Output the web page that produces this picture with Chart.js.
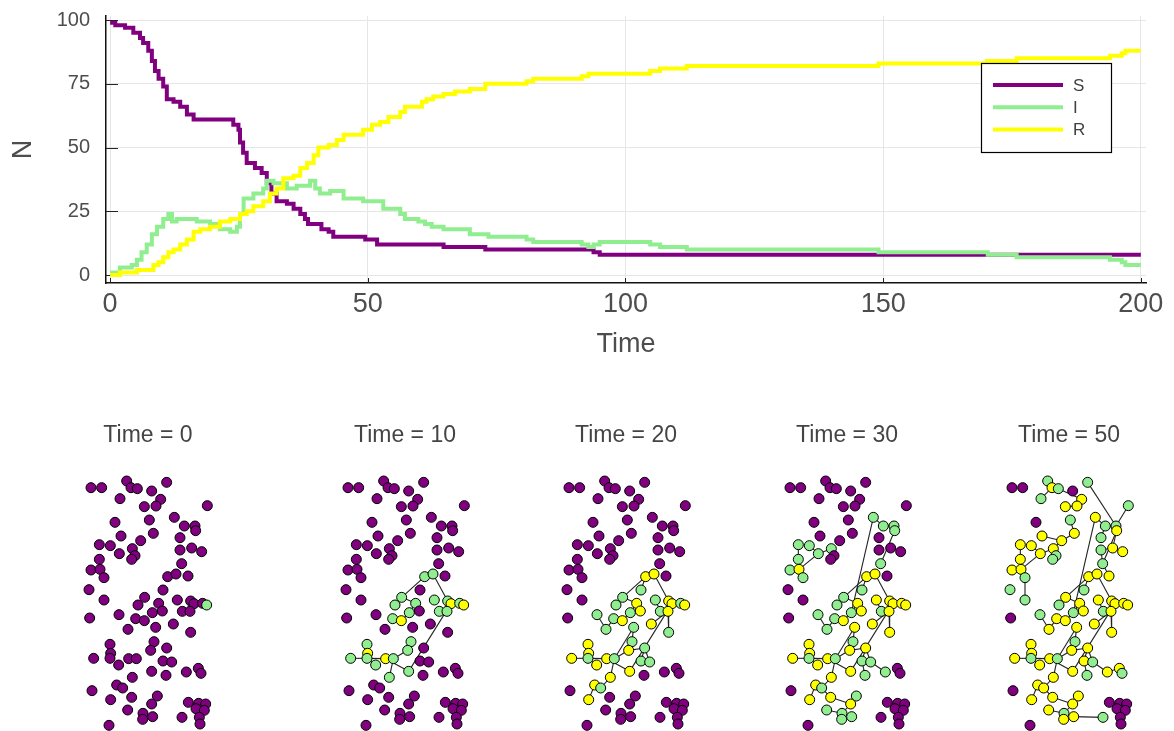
<!DOCTYPE html>
<html>
<head>
<meta charset="utf-8">
<script src="https://cdn.jsdelivr.net/npm/chart.js@4.4.0/dist/chart.umd.min.js"></script>
<style>
  body { margin: 0; background: #fff; width: 1174px; height: 731px; position: relative; overflow: hidden; font-family: "Liberation Sans", Arial, sans-serif; }
  #sir { position: absolute; left: 0; top: -12px; }
  .panel { position: absolute; top: 410px; width: 180px; height: 321px; }
  .panel canvas { position: absolute; left: 0; top: 0; }
  .ptitle { position: absolute; top: 13px; left: 78px; transform: translateX(-50%); white-space: nowrap; font-size: 23px; line-height: 23px; color: #444; }
</style>
</head>
<body>
<canvas id="sir" width="1174" height="377"></canvas>
<div id="panels"></div>
<script>
// --- SIR counts (step series) ---
const sTime  = [0, 1.0, 2.9, 4.5, 5.8, 6.4, 7.4, 8.1, 8.7, 9.4, 10.3, 11.0, 12.3, 13.6, 14.9, 16.2, 23.9, 24.9, 25.2, 25.8, 26.5, 28.1, 29.4, 30.4, 31.3, 32.3, 34.3, 35.6, 36.9, 37.8, 38.4, 41.0, 42.4, 43.3, 49.5, 51.8, 64.7, 72.8, 93.8, 95.0, 200];
const sCount = [99, 98, 97, 95, 93, 91, 88, 84, 80, 77, 74, 69, 68, 66, 63, 61, 59, 57, 52, 48, 44, 42, 40, 36, 32, 29, 28, 26, 24, 22, 20, 18, 17, 15, 14, 12, 11, 10, 9, 8, 8];

const iTime  = [0, 1.9, 4.2, 5.2, 6.1, 7.1, 8.1, 9.1, 10.3, 11.3, 12.0, 12.9, 16.8, 19.4, 21.3, 23.3, 24.6, 25.2, 25.9, 27.8, 29.7, 30.4, 31.7, 34.3, 36.2, 38.8, 39.8, 40.7, 42.7, 45.3, 49.1, 53.0, 56.3, 57.2, 59.8, 61.1, 62.4, 64.7, 69.8, 73.4, 80.8, 82.1, 91.5, 92.8, 93.8, 95.0, 104.8, 106.7, 111.9, 149.1, 170.3, 175.9, 194.0, 196.3, 197.0, 200];
const iCount = [1, 3, 4, 6, 9, 12, 16, 19, 22, 24, 21, 22, 21, 20, 18, 17, 19, 24, 30, 32, 34, 37, 36, 34, 35, 37, 34, 32, 33, 30, 29, 26, 24, 22, 21, 20, 19, 18, 16, 15, 14, 13, 12, 11, 12, 13, 12, 11, 10, 9, 8, 7, 6, 5, 4, 4];

const rTime  = [0, 1.9, 5.2, 8.4, 9.4, 10.3, 11.3, 12.3, 13.6, 14.9, 16.2, 17.5, 19.4, 21.3, 23.3, 25.2, 26.5, 27.8, 29.7, 31.0, 32.3, 33.6, 35.6, 36.9, 38.2, 39.5, 40.4, 42.4, 44.0, 45.3, 49.1, 50.8, 52.4, 54.0, 56.3, 57.2, 60.5, 61.4, 62.7, 64.7, 66.9, 69.8, 72.8, 80.8, 82.1, 91.5, 92.8, 104.8, 106.7, 111.9, 149.1, 170.1, 175.9, 194.0, 196.3, 197.0, 200];
const rCount = [0, 1, 2, 4, 5, 7, 9, 10, 12, 14, 17, 18, 19, 21, 22, 24, 25, 27, 29, 32, 34, 38, 39, 42, 44, 47, 50, 51, 53, 55, 57, 59, 60, 62, 64, 66, 68, 69, 70, 71, 72, 73, 75, 76, 77, 78, 79, 80, 81, 82, 83, 84, 85, 86, 87, 88, 88];

const seriesNames = ["S", "I", "R"];
const xTicks = [0, 50, 100, 150, 200];
const yTicks = [0, 25, 50, 75, 100];

// --- contact network snapshots ---
const nodeX = [63, 95, 170, 183, 202, 290, 245, 150, 272, 223, 258, 412, 135, 238, 313, 343, 375, 377, 153, 250, 212, 330, 88, 121, 187, 148, 195, 185, 330, 365, 395, 88, 335, 63, 90, 102, 293, 318, 354, 57, 102, 279, 224, 204, 266, 322, 362, 372, 398, 410, 59, 147, 197, 223, 247, 277, 337, 360, 174, 257, 310, 362, 120, 122, 120, 71, 176, 199, 252, 242, 290, 279, 305, 146, 187, 245, 288, 349, 385, 393, 66, 140, 158, 122, 185, 262, 245, 173, 219, 218, 248, 117, 336, 355, 386, 407, 378, 403, 388, 390];
const nodeY = [233, 233, 213, 233, 236, 217, 243, 266, 268, 290, 288, 287, 337, 330, 322, 348, 348, 362, 378, 370, 392, 383, 404, 407, 416, 431, 437, 448, 420, 414, 425, 448, 461, 480, 478, 503, 500, 492, 498, 539, 570, 540, 562, 585, 580, 570, 573, 581, 580, 585, 624, 614, 626, 632, 608, 603, 604, 604, 658, 652, 642, 667, 703, 730, 745, 745, 746, 746, 695, 721, 714, 753, 756, 765, 802, 784, 796, 786, 775, 790, 842, 825, 834, 869, 862, 858, 882, 900, 910, 928, 920, 946, 922, 877, 880, 882, 896, 901, 922, 942];

const snapTimes = [0, 10, 20, 30, 50];
const infected0 = [50];
const recovered0 = [];
const infected10 = [37, 38, 43, 44, 45, 46, 47, 49, 53, 55, 57, 58, 63, 65, 66, 68, 69, 70, 74, 75, 76];
const recovered10 = [48, 50, 54, 64, 67];
const infected20 = [42, 43, 44, 46, 49, 52, 53, 55, 57, 59, 60, 62, 65, 68, 69, 71, 72, 73, 83];
const recovered20 = [37, 38, 45, 47, 48, 50, 54, 56, 58, 61, 63, 64, 66, 67, 70, 74, 75, 76, 82, 84];
const infected30 = [15, 16, 17, 18, 23, 24, 25, 26, 32, 33, 34, 36, 42, 43, 44, 52, 53, 55, 57, 59, 65, 68, 69, 72, 73, 77, 78, 83, 86, 88, 89, 90, 91];
const recovered30 = [35, 37, 38, 45, 46, 47, 48, 49, 50, 54, 56, 58, 60, 61, 62, 63, 64, 66, 67, 70, 71, 74, 75, 76, 82, 84, 85, 87];
const infected50 = [3, 5, 6, 8, 12, 14, 16, 17, 22, 27, 28, 29, 33, 36, 40, 41, 42, 44, 52, 55, 57, 65, 68, 69, 73, 77, 80, 89, 93];
const recovered50 = [4, 9, 10, 11, 15, 18, 19, 20, 21, 23, 24, 25, 26, 30, 31, 32, 34, 35, 37, 38, 39, 43, 45, 46, 47, 48, 49, 50, 53, 54, 56, 58, 59, 60, 61, 62, 63, 64, 66, 67, 70, 71, 72, 74, 75, 76, 78, 79, 82, 83, 84, 85, 86, 87, 88, 90, 91];

// transmission links, grouped by the snapshot where they first show up
const edges10 = [[37, 43], [37, 38], [38, 47], [43, 44], [43, 45], [45, 55], [54, 55], [53, 54], [47, 48], [48, 50], [48, 49], [48, 58], [57, 58], [48, 76], [66, 65], [65, 67], [64, 63], [64, 65], [67, 68], [67, 76], [68, 70], [69, 70], [68, 75], [65, 74]];
const edges20 = [[37, 42], [45, 56], [52, 59], [53, 59], [58, 61], [58, 62], [60, 69], [60, 68], [70, 71], [71, 73], [71, 72], [75, 83], [83, 82], [82, 84], [46, 57]];
const edges30 = [[23, 32], [32, 35], [34, 35], [35, 36], [35, 26], [26, 24], [26, 25], [15, 55], [15, 16], [16, 17], [17, 18], [18, 33], [73, 78], [72, 77], [86, 87], [85, 87], [87, 89], [88, 89], [89, 91], [90, 89], [83, 85]];
const edges50 = [[3, 4], [4, 8], [4, 5], [5, 9], [9, 11], [10, 11], [6, 17], [12, 17], [16, 22], [29, 30], [30, 31], [18, 30], [29, 33], [33, 39], [14, 20], [20, 21], [19, 21], [21, 25], [25, 27], [27, 28], [36, 41], [78, 79], [79, 80], [91, 93]];

const COLOR_S = "#800080";
const COLOR_I = "#90ee90";
const COLOR_R = "#ffff00";

Chart.defaults.font.family = '"Liberation Sans", Arial, sans-serif';
Chart.defaults.color = "#4d4d4d";

function steps(times, counts) {
  return times.map((t, i) => ({ x: t, y: counts[i] }));
}

// GR style ticks point into the plot
const innerTicks = {
  id: "innerTicks",
  beforeDatasetsDraw(chart) {
    const { ctx, chartArea, scales } = chart;
    ctx.save();
    ctx.strokeStyle = "#222";
    ctx.lineWidth = 1;
    ctx.beginPath();
    yTicks.forEach(v => {
      const y = Math.round(scales.y.getPixelForValue(v)) + 0.5;
      ctx.moveTo(chartArea.left, y);
      ctx.lineTo(chartArea.left + 12, y);
    });
    xTicks.forEach(v => {
      const x = Math.round(scales.x.getPixelForValue(v)) + 0.5;
      ctx.moveTo(x, chartArea.bottom);
      ctx.lineTo(x, chartArea.bottom - 5);
    });
    ctx.stroke();
    ctx.restore();
  }
};

// legend box in the upper right corner of the plot (canvas sits 12px above the page top)
const sirLegend = {
  id: "sirLegend",
  afterDraw(chart) {
    const ctx = chart.ctx;
    const top = 75;
    ctx.save();
    ctx.fillStyle = "#fff";
    ctx.fillRect(981, top, 130, 89);
    ctx.strokeStyle = "#000";
    ctx.lineWidth = 1.2;
    ctx.strokeRect(981.5, top + 0.5, 130, 89);
    ctx.font = '17px "Liberation Sans", Arial, sans-serif';
    ctx.textBaseline = "middle";
    chart.data.datasets.forEach((ds, i) => {
      const y = top + 22 + i * 22.2;
      ctx.strokeStyle = ds.borderColor;
      ctx.lineWidth = 4;
      ctx.beginPath();
      ctx.moveTo(993, y);
      ctx.lineTo(1063, y);
      ctx.stroke();
      ctx.fillStyle = "#404040";
      ctx.fillText(ds.label, 1073, y + 1);
    });
    ctx.restore();
  }
};

new Chart(document.getElementById("sir"), {
  type: "line",
  data: {
    datasets: [
      { label: seriesNames[0], data: steps(sTime, sCount), borderColor: COLOR_S, order: 2 },
      { label: seriesNames[1], data: steps(iTime, iCount), borderColor: COLOR_I, order: 1 },
      { label: seriesNames[2], data: steps(rTime, rCount), borderColor: COLOR_R, order: 0 }
    ]
  },
  options: {
    responsive: false,
    animation: false,
    devicePixelRatio: 1,
    layout: { autoPadding: false, padding: { top: 3, right: 28, left: 0, bottom: 0 } },
    elements: {
      line: { borderWidth: 4, stepped: true, fill: false, tension: 0, borderJoinStyle: "miter", borderCapStyle: "butt" },
      point: { radius: 0, hoverRadius: 0 }
    },
    scales: {
      x: {
        type: "linear",
        min: -0.8,
        max: 201,
        afterFit(scale) { scale.height = 82; },
        afterBuildTicks(scale) { scale.ticks = xTicks.map(v => ({ value: v })); },
        grid: { color: "#e6e6e6", lineWidth: 1, drawTicks: false },
        border: { display: true, color: "#111", width: 1.5 },
        ticks: { font: { size: 27 }, color: "#4d4d4d", padding: 5, maxRotation: 0 },
        title: { display: true, text: "Time", font: { size: 27 }, color: "#4d4d4d", padding: { top: 0, bottom: 4 } }
      },
      y: {
        type: "linear",
        min: -3.1,
        max: 101.6,
        afterFit(scale) { scale.width = 106; },
        afterBuildTicks(scale) { scale.ticks = yTicks.map(v => ({ value: v })); },
        grid: { color: "#e6e6e6", lineWidth: 1, drawTicks: false },
        border: { display: true, color: "#111", width: 1.5 },
        ticks: { font: { size: 20 }, color: "#4d4d4d", padding: 16 },
        title: { display: true, text: "N", font: { size: 27 }, color: "#4d4d4d", padding: { top: 7, bottom: 0 } }
      }
    },
    plugins: { legend: { display: false }, tooltip: { enabled: false } }
  },
  plugins: [innerTicks, sirLegend]
});

// --- network snapshots ---
const panelLeft = [70, 327, 548, 769, 991];
const panels = [
  { infected: infected0, recovered: recovered0, edges: [] },
  { infected: infected10, recovered: recovered10, edges: edges10 },
  { infected: infected20, recovered: recovered20, edges: edges10.concat(edges20) },
  { infected: infected30, recovered: recovered30, edges: edges10.concat(edges20, edges30) },
  { infected: infected50, recovered: recovered50, edges: edges10.concat(edges20, edges30, edges50) }
];

const holder = document.getElementById("panels");
panels.forEach((p, n) => {
  const div = document.createElement("div");
  div.className = "panel";
  div.style.left = panelLeft[n] + "px";
  const canvas = document.createElement("canvas");
  canvas.width = 180;
  canvas.height = 321;
  div.appendChild(canvas);
  const title = document.createElement("div");
  title.className = "ptitle";
  title.textContent = "Time = " + snapTimes[n];
  div.appendChild(title);
  holder.appendChild(div);

  const colors = nodeX.map((_, k) => {
    if (p.recovered.includes(k + 1)) return COLOR_R;
    if (p.infected.includes(k + 1)) return COLOR_I;
    return COLOR_S;
  });

  const datasets = [{
    type: "scatter",
    data: nodeX.map((x, k) => ({ x: x, y: nodeY[k] })),
    pointRadius: 5,
    pointBackgroundColor: colors,
    pointBorderColor: "#000",
    pointBorderWidth: 1,
    order: 0,
    clip: false
  }];
  p.edges.forEach(([a, b]) => {
    datasets.push({
      type: "line",
      data: [{ x: nodeX[a - 1], y: nodeY[a - 1] }, { x: nodeX[b - 1], y: nodeY[b - 1] }],
      borderColor: "#222",
      borderWidth: 1.1,
      pointRadius: 0,
      fill: false,
      order: 1,
      clip: false
    });
  });

  new Chart(canvas, {
    type: "scatter",
    data: { datasets: datasets },
    options: {
      responsive: false,
      animation: false,
      devicePixelRatio: 1,
      layout: { autoPadding: false, padding: 0 },
      scales: {
        x: { type: "linear", display: false, min: 0, max: 540 },
        y: { type: "linear", display: false, min: 0, max: 963, reverse: true }
      },
      plugins: { legend: { display: false }, tooltip: { enabled: false } }
    }
  });
});
</script>
</body>
</html>
